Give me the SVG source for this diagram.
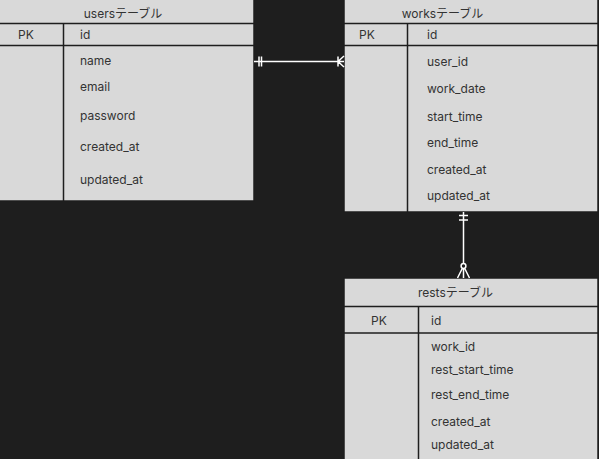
<svg xmlns="http://www.w3.org/2000/svg" width="599" height="459" viewBox="0 0 599 459">
<style>
.tbl{fill:#d9d9d9;stroke:#1e1e1e;stroke-width:1.5}
.ln{stroke:#1e1e1e;stroke-width:1.5;fill:none}
.t{font-family:Inter,"Noto Sans CJK JP",sans-serif;font-size:12px;fill:#333}
.c{text-anchor:middle}
.cn{stroke:#fff;stroke-width:1.5;fill:none}
</style>
<rect x="0" y="0" width="599" height="459" fill="#1e1e1e"/>
<g id="users">
<rect class="tbl" x="-8" y="-8" width="262" height="209"/>
<line class="ln" x1="-8" y1="23.5" x2="254" y2="23.5"/>
<line class="ln" x1="-8" y1="45.5" x2="254" y2="45.5"/>
<line class="ln" x1="63.5" y1="23.5" x2="63.5" y2="201"/>
<text class="t c" x="123" y="18">usersテーブル</text>
<text class="t" x="18" y="39">PK</text>
<text class="t" x="80" y="39">id</text>
<text class="t" x="80" y="65">name</text>
<text class="t" x="80" y="91">email</text>
<text class="t" x="80" y="120">password</text>
<text class="t" x="80" y="151">created_at</text>
<text class="t" x="80" y="184">updated_at</text>
</g>
<g id="works">
<rect class="tbl" x="344" y="-8" width="254" height="220"/>
<line class="ln" x1="344" y1="23.5" x2="598" y2="23.5"/>
<line class="ln" x1="344" y1="45.5" x2="598" y2="45.5"/>
<line class="ln" x1="407.5" y1="23.5" x2="407.5" y2="212"/>
<text class="t c" x="442.5" y="18">worksテーブル</text>
<text class="t" x="359" y="39">PK</text>
<text class="t" x="427" y="39">id</text>
<text class="t" x="427" y="66">user_id</text>
<text class="t" x="427" y="93">work_date</text>
<text class="t" x="427" y="121">start_time</text>
<text class="t" x="427" y="147">end_time</text>
<text class="t" x="427" y="174">created_at</text>
<text class="t" x="427" y="200">updated_at</text>
</g>
<g id="rests">
<rect class="tbl" x="344" y="278" width="254" height="190"/>
<line class="ln" x1="344" y1="306.5" x2="598" y2="306.5"/>
<line class="ln" x1="344" y1="333" x2="598" y2="333"/>
<line class="ln" x1="418.5" y1="306.5" x2="418.5" y2="468"/>
<text class="t c" x="455.5" y="297">restsテーブル</text>
<text class="t" x="371" y="325">PK</text>
<text class="t" x="431" y="325">id</text>
<text class="t" x="431" y="351">work_id</text>
<text class="t" x="431" y="374">rest_start_time</text>
<text class="t" x="431" y="399">rest_end_time</text>
<text class="t" x="431" y="426">created_at</text>
<text class="t" x="431" y="449">updated_at</text>
</g>
<g id="connectors">
<path class="cn" d="M254 61.5H344 M259 56.5V66.5 M261.5 56.5V66.5 M338 56.5V66.5 M338 61.5L344 56 M338 61.5L344 67"/>
<path class="cn" d="M463.5 212V263.5 M459 215.5H468 M459 220H468 M463.5 268.5V278 M462.5 268L457.5 278 M464.5 268L469.5 278"/>
<circle class="cn" cx="463.5" cy="266" r="2.4"/>
</g>
</svg>
